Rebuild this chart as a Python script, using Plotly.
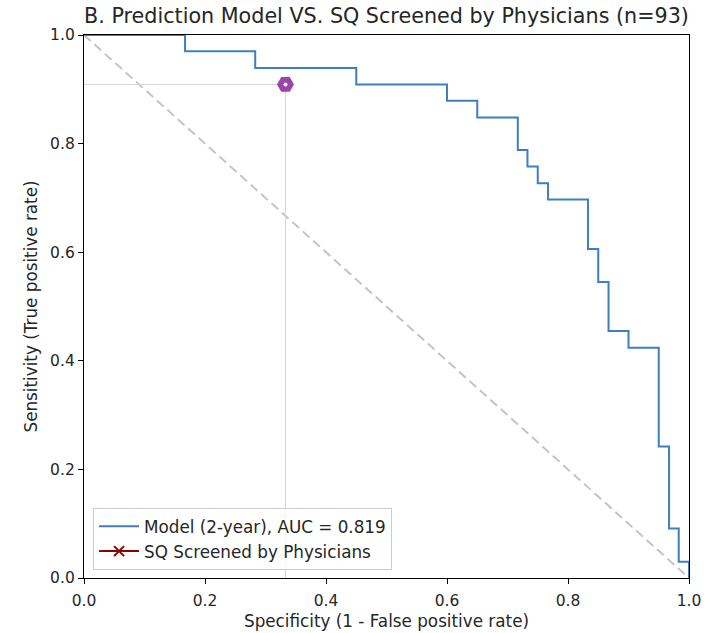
import plotly.graph_objects as go

# ROC step corners (specificity, sensitivity)
spec = [0.0, 0.167, 0.283, 0.45, 0.6, 0.65, 0.717, 0.733, 0.75, 0.767,
        0.833, 0.85, 0.867, 0.9, 0.95, 0.967, 0.983, 1.0]
sens = [1.0, 0.970, 0.939, 0.909, 0.879, 0.848, 0.788, 0.758, 0.727, 0.697,
        0.606, 0.545, 0.455, 0.424, 0.242, 0.091, 0.030, 0.0]

sq_spec = [0.333]
sq_sens = [0.909]

diag_x = [0.0, 1.0]
diag_y = [1.0, 0.0]

model_label = "Model (2-year), AUC = 0.819"
sq_label = "SQ Screened by Physicians"
title = "B. Prediction Model VS. SQ Screened by Physicians (n=93)"

FONT = "DejaVu Sans"
TXT = "#262626"

fig = go.Figure()

# diagonal reference
fig.add_trace(go.Scatter(x=diag_x, y=diag_y, mode="lines",
                         line=dict(color="#c4c4c4", width=2, dash="9px,5px"),
                         showlegend=False, hoverinfo="skip"))

# crosshair lines for SQ point
fig.add_trace(go.Scatter(x=[0.0, sq_spec[0]], y=[sq_sens[0], sq_sens[0]], mode="lines",
                         line=dict(color="#d6d6d6", width=1),
                         showlegend=False, hoverinfo="skip"))
fig.add_trace(go.Scatter(x=[sq_spec[0], sq_spec[0]], y=[0.0, sq_sens[0]], mode="lines",
                         line=dict(color="#d6d6d6", width=1),
                         showlegend=False, hoverinfo="skip"))

# ROC curve
fig.add_trace(go.Scatter(x=spec, y=sens, mode="lines", line_shape="hv",
                         line=dict(color="#3f7fbd", width=2),
                         name=model_label))

# SQ legend entry (dark red x), covered by purple marker
fig.add_trace(go.Scatter(x=sq_spec, y=sq_sens, mode="lines+markers",
                         line=dict(color="#8b0000", width=2),
                         marker=dict(symbol="x-thin", size=10,
                                     line=dict(color="#8b0000", width=2)),
                         name=sq_label))

fig.add_trace(go.Scatter(x=sq_spec, y=sq_sens, mode="markers",
                         marker=dict(symbol="hexagon2", size=17, color="#9c43ad",
                                     line=dict(width=0)),
                         showlegend=False, hoverinfo="skip"))
fig.add_trace(go.Scatter(x=sq_spec, y=sq_sens, mode="markers",
                         marker=dict(symbol="circle", size=4, color="white",
                                     line=dict(width=0)),
                         showlegend=False, hoverinfo="skip"))

axis_common = dict(
    range=[0, 1], showline=True, linecolor="black", linewidth=1.3, mirror=True,
    ticks="outside", ticklen=5, tickwidth=1.2, tickcolor="black",
    showgrid=False, zeroline=False, tickformat=".1f", dtick=0.2,
    tickfont=dict(family=FONT, size=15.5, color=TXT), automargin=False,
)

fig.update_layout(
    template="none",
    width=707, height=633,
    margin=dict(l=84, r=18, t=35, b=55, autoexpand=False),
    paper_bgcolor="white", plot_bgcolor="white",
    font=dict(family=FONT, color=TXT),
    title=dict(text=title, x=0.5, xref="paper", y=1 - 16 / 633, yref="container",
               xanchor="center", yanchor="middle",
               font=dict(family=FONT, size=20.7, color=TXT)),
    xaxis=dict(axis_common, ticklabelstandoff=3,
               title=dict(text="Specificity (1 - False positive rate)",
                          font=dict(family=FONT, size=16.8, color=TXT),
                          standoff=6)),
    yaxis=dict(axis_common, title=dict(text="Sensitivity (True positive rate)",
                                       font=dict(family=FONT, size=16.8, color=TXT),
                                       standoff=8)),
    legend=dict(x=0.015, y=0.015, xanchor="left", yanchor="bottom",
                bgcolor="rgba(255,255,255,0.8)", bordercolor="#cccccc", borderwidth=1,
                font=dict(family=FONT, size=16.8, color=TXT), itemwidth=40,
                tracegroupgap=0),
    showlegend=True,
)

fig.write_html("out.html")
